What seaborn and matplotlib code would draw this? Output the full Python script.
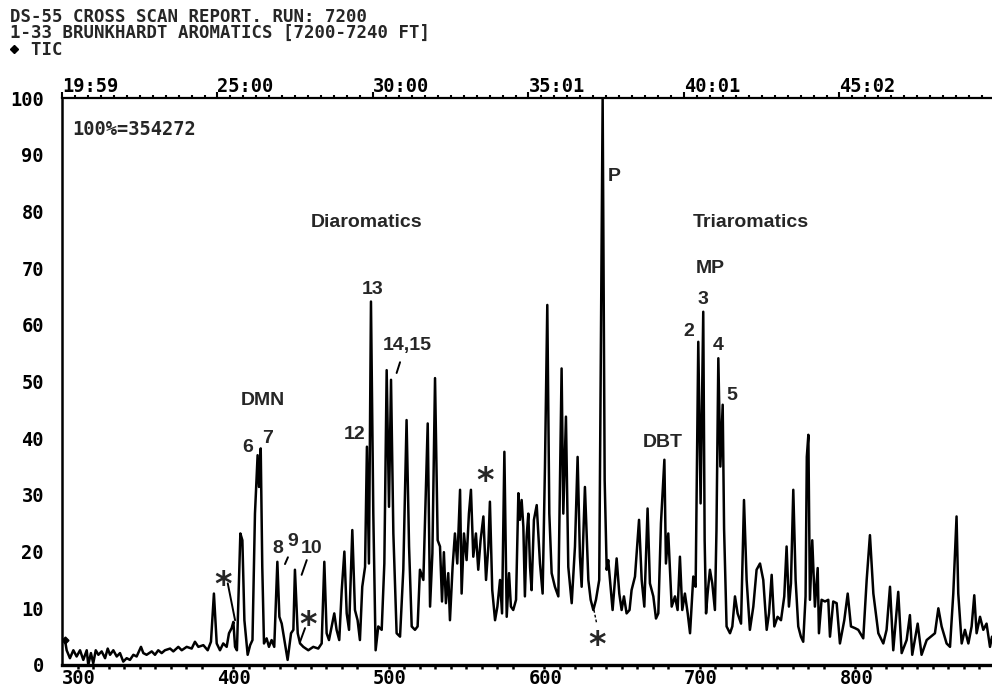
import matplotlib
matplotlib.use("Agg")
import matplotlib.pyplot as plt
import matplotlib.ticker as mticker
from matplotlib.lines import Line2D
import pandas as pd
import seaborn as sns

# ---- TIC trace: scan number and relative intensity (% of base peak) ----
scan = [
    301.9, 303.0, 305.1, 307.3, 309.4, 311.6, 313.7, 315.9, 316.9, 318.6,
    320.1, 321.7, 323.4, 325.5, 327.7, 329.4, 330.9, 333.0, 335.2, 337.3,
    339.4, 341.6, 343.7, 345.9, 348.0, 350.8, 352.3, 354.4, 357.7, 359.8,
    361.9, 364.1, 366.2, 369.5, 371.6, 374.8, 377.0, 380.2, 383.4, 385.5,
    387.7, 390.9, 393.7, 395.8, 397.7, 399.5, 401.6, 403.7, 405.9, 407.4,
    409.1, 410.2, 411.3, 412.5, 413.8, 414.7, 416.0, 417.3, 419.4, 421.0,
    422.5, 424.1, 425.8, 426.7, 427.8, 428.8, 429.9, 431.6, 433.1, 434.8,
    436.5, 438.5, 439.8, 441.3, 443.0, 445.1, 447.3, 448.8, 449.8, 451.6,
    453.1, 455.2, 458.4, 461.6, 464.8, 467.0, 468.7, 470.2, 471.7, 473.8,
    475.1, 476.6, 478.3, 479.9, 481.6, 483.1, 484.6, 486.7, 488.4, 490.1,
    491.6, 493.1, 494.9, 496.1, 497.4, 498.7, 500.2, 501.7, 503.4, 505.6,
    507.3, 508.8, 510.3, 511.6, 513.1, 515.2, 517.4, 519.5, 521.6, 523.2,
    524.9, 527.0, 528.7, 530.2, 532.4, 535.2, 536.7, 538.2, 539.9, 541.6,
    543.1, 544.4, 545.6, 546.9, 548.4, 549.5, 551.2, 552.7, 554.2, 556.0,
    557.0, 558.5, 560.2, 561.7, 563.0, 564.5, 566.2, 567.7, 569.2, 571.0,
    572.7, 574.2, 575.2, 576.7, 578.5, 580.0, 581.7, 583.0, 584.5, 586.0,
    587.5, 588.7, 590.2, 592.0, 593.5, 594.5, 595.6, 596.7, 597.7, 598.8,
    599.9, 601.0, 602.0, 603.5, 605.3, 607.4, 609.1, 610.6, 612.1, 613.4,
    614.9, 617.0, 619.2, 620.3, 621.3, 622.4, 624.1, 625.6, 627.8, 629.9,
    631.6, 633.1, 634.2, 636.3, 638.5, 640.0, 641.7, 643.4, 645.5, 647.7,
    649.0, 650.3, 651.3, 652.4, 654.1, 656.7, 658.4, 659.9, 661.4, 663.1,
    665.0, 666.3, 668.5, 671.1, 672.8, 674.5, 676.6, 678.1, 680.3, 682.0,
    683.5, 685.2, 687.4, 688.4, 689.9, 692.1, 694.2, 695.9, 697.4, 698.9,
    700.6, 702.4, 703.9, 706.0, 707.5, 709.2, 710.7, 712.4, 713.3, 714.2,
    715.2, 716.7, 718.2, 719.9, 720.9, 722.1, 723.4, 724.9, 725.8, 727.4,
    729.6, 731.1, 732.8, 734.5, 736.7, 738.6, 740.3, 742.4, 744.6, 746.7,
    748.9, 751.0, 753.2, 754.7, 756.4, 758.1, 760.2, 762.4, 764.5, 766.0,
    767.5, 768.8, 770.3, 771.8, 773.5, 775.2, 776.7, 778.2, 779.0, 780.0,
    781.0, 782.5, 784.2, 786.0, 786.8, 788.5, 790.7, 792.8, 793.9, 796.0,
    798.2, 800.3, 803.1, 805.3, 807.4, 810.0, 812.1, 815.3, 817.5, 819.6,
    821.8, 825.0, 828.2, 830.3, 832.5, 834.6, 837.8, 840.0, 843.2, 845.3,
    846.8, 850.3, 852.8, 856.1, 858.8, 861.4, 863.6, 865.7, 868.9, 871.1,
    873.2, 875.3, 876.4, 878.6, 880.7, 882.9, 885.0, 886.7, 888.2, 890.4,
    892.5, 894.6, 896.8, 898.1,
]
tic = [
    4.4, 2.6, 1.2, 2.6, 1.5, 2.6, 0.9, 2.6, 0.0, 2.1,
    0.3, 2.6, 1.8, 2.4, 1.2, 2.9, 1.8, 2.6, 1.5, 2.1,
    0.6, 1.2, 0.9, 1.8, 1.5, 3.2, 2.1, 1.8, 2.4, 1.8,
    2.6, 2.1, 2.6, 2.9, 2.4, 3.2, 2.6, 3.2, 2.9, 4.1,
    3.2, 3.5, 2.6, 4.1, 12.6, 3.8, 2.6, 3.8, 3.2, 5.6,
    6.5, 7.6, 3.2, 2.6, 15.0, 23.2, 22.0, 7.9, 1.8, 3.5,
    4.4, 26.7, 37.0, 31.4, 38.2, 17.3, 3.8, 4.7, 3.2, 4.4,
    3.2, 18.2, 8.5, 7.3, 4.4, 0.9, 5.6, 6.2, 16.8, 5.6,
    3.8, 3.2, 2.6, 3.2, 2.9, 3.8, 18.2, 5.6, 4.4, 7.3,
    9.1, 6.2, 4.4, 13.2, 20.0, 9.1, 6.2, 23.8, 9.7, 7.9,
    4.4, 13.8, 17.3, 38.5, 17.9, 64.1, 26.7, 2.6, 6.8, 6.2,
    17.9, 52.0, 27.9, 50.3, 23.2, 5.6, 5.0, 16.8, 43.2, 20.9,
    6.8, 6.2, 6.8, 16.8, 15.0, 42.6, 10.3, 19.7, 50.6, 22.0,
    20.9, 11.2, 19.9, 10.9, 16.2, 7.9, 17.3, 23.2, 17.9, 30.9,
    12.6, 23.2, 18.5, 26.7, 30.9, 19.1, 23.2, 16.8, 22.0, 26.2,
    15.0, 20.9, 28.8, 13.2, 7.9, 10.3, 15.0, 9.1, 37.6, 8.5,
    16.2, 10.3, 9.7, 11.5, 30.3, 25.6, 29.1, 24.4, 12.1, 22.6,
    26.7, 17.3, 13.2, 25.6, 28.2, 17.9, 12.6, 35.0, 63.5, 26.7,
    16.2, 13.8, 12.1, 32.6, 52.3, 26.7, 43.8, 17.3, 10.9, 20.9,
    36.7, 19.1, 13.8, 31.4, 15.0, 11.5, 9.7, 11.5, 15.0, 100.0,
    32.6, 16.8, 18.5, 15.0, 9.7, 18.8, 12.6, 9.7, 12.1, 9.1,
    9.7, 13.2, 15.6, 25.6, 15.0, 10.3, 27.6, 14.4, 12.1, 8.2,
    9.1, 25.0, 36.2, 17.9, 23.2, 10.3, 12.1, 9.7, 19.1, 9.7,
    12.6, 9.1, 5.6, 15.6, 13.8, 57.0, 28.5, 62.3, 22.0, 9.1,
    12.6, 16.8, 14.4, 9.7, 23.8, 54.1, 35.0, 45.9, 24.0, 6.8,
    5.6, 6.8, 12.1, 9.1, 7.3, 29.1, 15.0, 6.2, 10.3, 16.8,
    17.9, 15.0, 6.2, 9.1, 15.9, 6.8, 8.5, 7.9, 12.1, 20.9,
    10.3, 14.4, 30.9, 15.0, 6.8, 5.0, 4.1, 12.1, 36.7, 40.6,
    11.5, 22.0, 10.3, 17.1, 5.6, 11.5, 11.2, 11.5, 5.0, 11.2,
    10.9, 3.8, 7.9, 12.6, 6.8, 6.5, 6.2, 4.7, 15.0, 22.9,
    12.6, 5.6, 3.8, 6.2, 13.8, 2.6, 12.9, 2.1, 4.4, 8.8,
    1.8, 7.3, 1.8, 4.4, 5.0, 5.6, 10.0, 6.8, 3.8, 3.2,
    12.6, 26.2, 12.6, 3.8, 6.2, 3.8, 6.8, 12.3, 5.6, 8.5,
    6.2, 7.3, 3.2, 5.0,
]

# ---- axis labelling ----
scan_ticks = [300, 400, 500, 600, 700, 800]
scan_labels = ["300", "400", "500", "600", "700", "800"]
time_labels = ["19:59", "25:00", "30:00", "35:01", "40:01", "45:02"]
pct_ticks = [0, 10, 20, 30, 40, 50, 60, 70, 80, 90, 100]

header = [
    "DS-55 CROSS SCAN REPORT. RUN: 7200",
    "1-33 BRUNKHARDT AROMATICS [7200-7240 FT]",
    "  TIC",
]
base_peak_note = "100%=354272"

# compound labels: text, scan, % position
peak_labels = [
    ("Diaromatics", 496.0, 78.1),
    ("Triaromatics", 743.0, 78.1),
    ("MP", 716.7, 70.0),
    ("3", 712.2, 64.4),
    ("2", 703.2, 58.9),
    ("4", 721.9, 56.4),
    ("5", 730.9, 47.6),
    ("DBT", 686.5, 39.2),
    ("13", 500.0, 66.3),
    ("14,15", 522.2, 56.3),
    ("12", 488.4, 40.6),
    ("DMN", 429.3, 46.6),
    ("6", 419.6, 38.3),
    ("7", 432.2, 39.9),
    ("8", 438.9, 20.5),
    ("9", 448.2, 21.7),
    ("10", 460.5, 20.6),
]
p_label = ("P", 651.0, 86.2)

# contaminant markers (asterisks) and their leader strokes
star_pos = [(403.9, 16.0), (458.5, 9.0), (572.0, 34.4), (644.4, 5.4)]
leader_lines = [
    ((406.6, 411.3), (14.4, 7.9)),
    ((456.3, 453.1), (6.5, 4.1)),
    ((445.3, 443.4), (19.0, 17.8)),
    ((457.4, 454.1), (18.5, 15.9)),
    ((517.4, 515.2), (53.4, 51.5)),
]
dashed_leader = ((642.1, 643.8), (9.7, 7.4))

# ---- style ----
sns.set_theme(style="white")
plt.rcParams["font.family"] = ["DejaVu Sans Mono", "DejaVu Sans"]
plt.rcParams["font.weight"] = "bold"
plt.rcParams["axes.edgecolor"] = "black"
plt.rcParams["xtick.color"] = "black"
plt.rcParams["ytick.color"] = "black"
mono_size = 13.5
label_font = dict(family=["Liberation Sans", "DejaVu Sans"], weight="bold", size=14)

W, H = 992, 698
fig = plt.figure(figsize=(W / 100, H / 100), dpi=100)
ax = fig.add_axes([62 / W, 1 - 665 / H, 930 / W, (665 - 98) / H])

df = pd.DataFrame({"scan": scan, "tic": tic})
sns.lineplot(data=df, x="scan", y="tic", ax=ax, color="black", lw=1.8,
             sort=False, estimator=None)
ax.plot(scan[0], tic[0], marker="D", ms=3.5, color="black")

ax.set_xlim(300, 898.1)
ax.set_ylim(0, 100)
ax.set_xlabel("")
ax.set_ylabel("")

ax.spines["right"].set_visible(False)
ax.spines["bottom"].set_linewidth(2.4)
ax.spines["left"].set_linewidth(1.8)
ax.spines["top"].set_linewidth(1.6)

# bottom axis: scan numbers
ax.set_xticks(scan_ticks)
ax.set_xticklabels(scan_labels, ha="left")
ax.xaxis.set_minor_locator(mticker.MultipleLocator(10))
ax.tick_params(axis="x", which="major", direction="out", length=6.5, width=1.8,
               pad=-3.5, labelsize=mono_size)
ax.tick_params(axis="x", which="minor", direction="out", length=3, width=1.8,
               bottom=True)

# left axis: relative abundance
ax.set_yticks(pct_ticks)
ax.set_yticklabels([str(t) for t in pct_ticks])
ax.tick_params(axis="y", which="major", direction="out", length=5, width=1.8,
               pad=8, labelsize=mono_size)

# top axis: retention time
top = ax.secondary_xaxis("top")
top.set_xticks(scan_ticks)
top.set_xticklabels(time_labels, ha="left")
top.xaxis.set_minor_locator(mticker.FixedLocator(
    [300 + k * 100 / 12 for k in range(0, 72)]))
top.tick_params(axis="x", which="major", direction="out", length=4, width=1.5,
                pad=-2.5, labelsize=mono_size)
top.tick_params(axis="x", which="minor", direction="out", length=2.2, width=1.5)
top.spines["top"].set_visible(False)

# report header; the trace-type bullet is a diamond marker
fig.text(10 / W, 1 - 8 / H, "\n".join(header), fontsize=12.5, va="top",
         ha="left", linespacing=0.88)
fig.add_artist(Line2D([14 / W], [1 - 48.5 / H], marker="D", ms=4.5,
                      color="black", transform=fig.transFigure))

ax.text(306.4, 94.4, base_peak_note, fontsize=mono_size, va="center", ha="left")

for txt, x, y in peak_labels:
    ax.text(x, y, txt, ha="center", va="center", **label_font)
ax.text(p_label[1], p_label[2], p_label[0], ha="left", va="center", **label_font)

for x, y in star_pos:
    ax.annotate("*", xy=(x, y), xytext=(0, -8), textcoords="offset points",
                ha="center", va="center", family=["DejaVu Sans"], weight="bold",
                size=24)

for xs, ys in leader_lines:
    ax.plot(xs, ys, color="black", lw=1.4)
ax.plot(dashed_leader[0], dashed_leader[1], color="black", lw=1.0, ls=(0, (2, 1.5)))

fig.savefig("out.png", dpi=100)
